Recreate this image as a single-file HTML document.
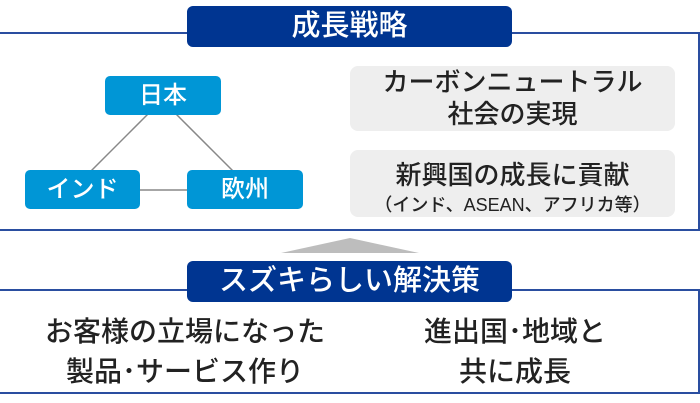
<!DOCTYPE html>
<html><head><meta charset="utf-8"><style>
body{margin:0;width:700px;height:403px;background:#fff;position:relative;overflow:hidden;font-family:"Liberation Sans","Noto Sans CJK JP",sans-serif;}
.a{position:absolute;box-sizing:border-box;white-space:nowrap;}
.frame{border:2px solid #2a4ea0;}
.title{background:#003591;color:#fff;border-radius:6px;font-size:29px;font-weight:500;text-align:center;line-height:41px;}
.node{background:#0096d6;color:#fff;border-radius:5px;font-size:24px;font-weight:500;text-align:center;line-height:39px;}
.gray{background:#eeeeee;border-radius:8px;}
.t{color:#222;font-weight:500;text-align:center;}
</style></head><body>
<div class="a frame" style="left:-2px;top:32px;width:702px;height:199px;"></div>
<div class="a title" style="left:187px;top:6px;width:325px;height:41px;">成長戦略</div>
<svg class="a" style="left:0;top:0" width="700" height="403">
<line x1="148" y1="114" x2="90" y2="172" stroke="#888" stroke-width="1.5"/>
<line x1="176" y1="114" x2="234" y2="172" stroke="#888" stroke-width="1.5"/>
<line x1="140" y1="190" x2="187" y2="190" stroke="#888" stroke-width="1.5"/>
<polygon points="281,253 350,238 419,253" fill="#bdbdbd"/>
</svg>
<div class="a node" style="left:105px;top:76px;width:116px;height:39px;">日本</div>
<div class="a node" style="left:25px;top:170px;width:115px;height:39px;">インド</div>
<div class="a node" style="left:187px;top:170px;width:116px;height:39px;">欧州</div>
<div class="a gray" style="left:350px;top:66px;width:325px;height:65px;"></div>
<div class="a gray" style="left:350px;top:150px;width:325px;height:67px;"></div>
<div class="a t" style="left:350px;top:66px;width:325px;font-size:26px;line-height:32px;">カーボンニュートラル<br>社会の実現</div>
<div class="a t" style="left:350px;top:159px;width:325px;font-size:26px;line-height:32px;">新興国の成長に貢献</div>
<div class="a t" style="left:350px;top:192px;width:325px;font-size:18px;line-height:26px;">（インド、ASEAN、アフリカ等）</div>
<div class="a frame" style="left:-2px;top:289px;width:702px;height:105px;"></div>
<div class="a title" style="left:187px;top:261px;width:325px;height:41px;">スズキらしい解決策</div>
<div class="a t" style="left:20px;top:312px;width:330px;font-size:28px;line-height:40px;">お客様の立場になった<br>製品･サービス作り</div>
<div class="a t" style="left:350px;top:312px;width:330px;font-size:28px;line-height:40px;">進出国･地域と<br>共に成長</div>
</body></html>
